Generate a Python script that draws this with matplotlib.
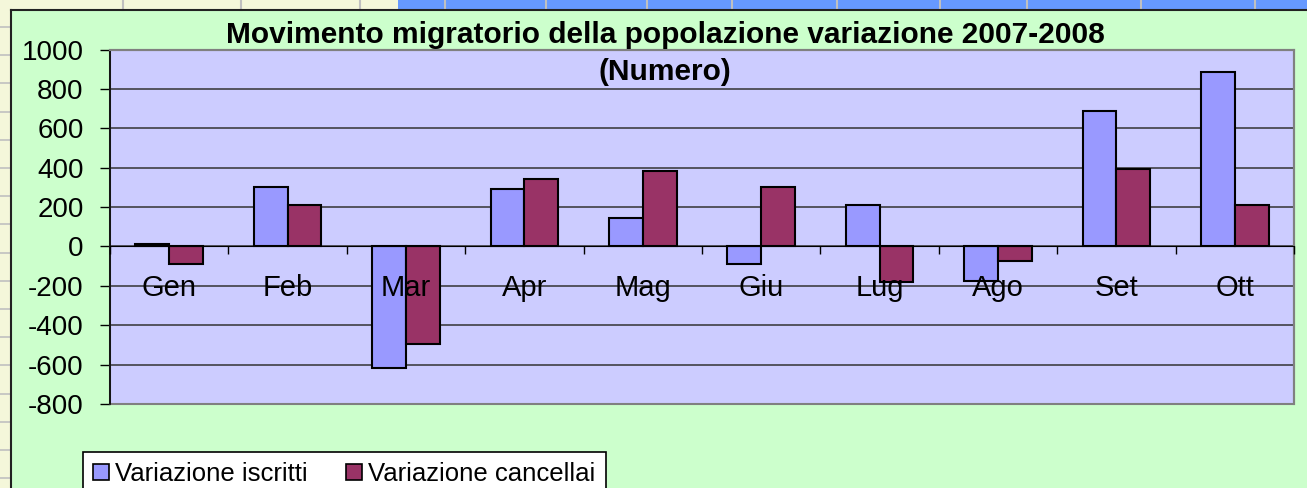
import numpy as np
import matplotlib.pyplot as plt
from matplotlib.patches import Rectangle, Patch
from matplotlib.lines import Line2D

months = ["Gen", "Feb", "Mar", "Apr", "Mag", "Giu", "Lug", "Ago", "Set", "Ott"]
iscritti = [10, 303, -619, 293, 142, -91, 210, -174, 689, 888]
cancellati = [-91, 210, -495, 342, 384, 303, -183, -76, 393, 210]
yticks = [-800, -600, -400, -200, 0, 200, 400, 600, 800, 1000]
series_names = ["Variazione iscritti", "Variazione cancellai"]

c_blue = "#9999FF"
c_red = "#993366"

plt.rcParams["font.family"] = ["Liberation Sans", "DejaVu Sans"]

W, H = 1307, 488
fig = plt.figure(figsize=(W / 100, H / 100), dpi=100)
fig.patch.set_facecolor("#CCFFCC")

# spreadsheet bits around the chart object
def px(x0, y0, w, h, **kw):
    fig.add_artist(Rectangle((x0 / W, 1 - (y0 + h) / H), w / W, h / H,
                             transform=fig.transFigure, **kw))

px(0, 0, 398, 10, facecolor="#F4F7DA", edgecolor="none")
px(398, 0, W - 398, 10, facecolor="#6699FF", edgecolor="none")
px(0, 0, 11, H, facecolor="#F4F7DA", edgecolor="none")
for x in [123, 241, 360, 445, 546, 647, 732, 837, 940, 1027, 1141, 1255]:
    fig.add_artist(Line2D([x / W, x / W], [1 - 10 / H, 1], color="#C0C0C0", lw=1.5))
for y in np.arange(27, H, 28.2):
    fig.add_artist(Line2D([0, 10 / W], [1 - y / H, 1 - y / H], color="#C0C0C0", lw=1.2))
fig.add_artist(Line2D([11 / W, 11 / W], [0, 1 - 10 / H], color="#222222", lw=1.5))
fig.add_artist(Line2D([11 / W, 1], [1 - 10 / H, 1 - 10 / H], color="#222222", lw=1.5))

ax = fig.add_axes([110 / W, 1 - 404 / H, (1294 - 110) / W, (404 - 49.5) / H])
ax.set_facecolor("#CCCCFF")

x = np.arange(len(months))
w = 1 / 3.5
ax.bar(x - w / 2, iscritti, w, color=c_blue, edgecolor="black", linewidth=1.5, zorder=2)
ax.bar(x + w / 2, cancellati, w, color=c_red, edgecolor="black", linewidth=1.5, zorder=2)

ax.set_xlim(-0.5, len(months) - 0.5)
ax.set_ylim(-800, 1000)
ax.set_yticks(yticks)
ax.set_yticklabels([str(v) for v in yticks])
ax.yaxis.grid(True, color="#333333", linewidth=1.1)
ax.yaxis.set_zorder(0.5)
ax.xaxis.set_zorder(5)

ax.set_xticks(x)
ax.set_xticklabels(months)
ax.set_xticks(np.arange(len(months) + 1) - 0.5, minor=True)
ax.tick_params(axis="x", which="major", length=0, pad=20, labelsize=21)
ax.tick_params(axis="x", which="minor", length=6, width=1, direction="out")
ax.tick_params(axis="y", length=7, width=1, pad=12, labelsize=20)

ax.spines["bottom"].set_position(("data", 0))
ax.spines["bottom"].set_color("black")
ax.spines["bottom"].set_zorder(4)
ax.spines["left"].set_color("black")
ax.spines["left"].set_linewidth(1.2)
for s in ["top", "right"]:
    ax.spines[s].set_color("#808080")
    ax.spines[s].set_linewidth(1.5)
ax.add_patch(Rectangle((0, 0), 1, 1, transform=ax.transAxes, fill=False,
                       edgecolor="#808080", linewidth=1.5, zorder=1, clip_on=False))

fig.text(665 / W, 1 - 43 / H, "Movimento migratorio della popolazione variazione 2007-2008",
         ha="center", va="baseline", fontsize=21.5, fontweight="bold")
fig.text(665 / W, 1 - 80 / H, "(Numero)",
         ha="center", va="baseline", fontsize=21.5, fontweight="bold")

handles = [Patch(facecolor=c_blue, edgecolor="black", linewidth=1.2),
           Patch(facecolor=c_red, edgecolor="black", linewidth=1.2)]
leg = fig.legend(handles, series_names, loc="upper left",
                 bbox_to_anchor=(83 / W, 1 - 452 / H), ncol=2, fontsize=18.5,
                 frameon=True, fancybox=False, framealpha=1, edgecolor="black",
                 handlelength=0.6, handleheight=0.6, handletextpad=0.25,
                 columnspacing=1.5, borderpad=0.4, borderaxespad=0)
leg.get_frame().set_linewidth(1.2)

fig.savefig("out.png", dpi=100, facecolor=fig.get_facecolor())
